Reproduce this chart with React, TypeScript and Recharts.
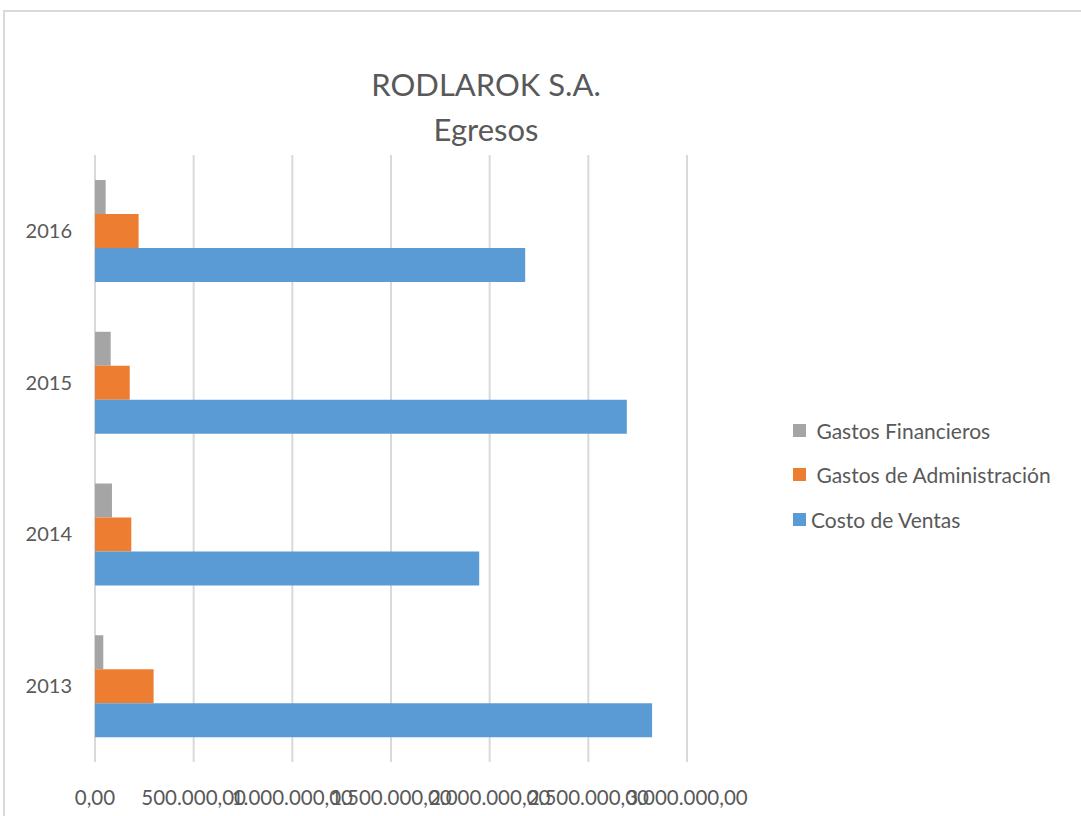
import React from 'react';
import { BarChart, Bar, XAxis, YAxis, CartesianGrid } from 'recharts';

const YEARS = ['2013', '2014', '2015', '2016'];
const COSTO_VENTAS = [2823000, 1947000, 2695000, 2180000];
const GASTOS_ADMIN = [297000, 184000, 176000, 221000];
const GASTOS_FIN = [42000, 86000, 79500, 54000];
const X_TICKS = [0, 500000, 1000000, 1500000, 2000000, 2500000, 3000000];

const SERIES = [
  { key: 'fin', name: ' Gastos Financieros', color: '#A5A5A5' },
  { key: 'admin', name: ' Gastos de Administración', color: '#ED7D31' },
  { key: 'ventas', name: 'Costo de Ventas', color: '#5B9BD5' },
];

const data = YEARS.map((year, i) => ({
  year,
  ventas: COSTO_VENTAS[i],
  admin: GASTOS_ADMIN[i],
  fin: GASTOS_FIN[i],
}));

const FONT = 'Lato, "Open Sans", sans-serif';
const TEXT = '#595959';

const formatNum = (v: number) =>
  Math.round(v).toString().replace(/\B(?=(\d{3})+(?!\d))/g, '.') + ',00';

const LegendBox = () => (
  <div style={{ position: 'absolute', left: 793, top: 408, fontFamily: FONT, fontSize: 21, color: TEXT }}>
    {SERIES.map(s => (
      <div key={s.key} style={{ display: 'flex', alignItems: 'center', height: 44.5 }}>
        <span style={{ width: 13, height: 13, background: s.color, display: 'inline-block', marginRight: 5 }} />
        <span style={{ whiteSpace: 'pre' }}>{s.name}</span>
      </div>
    ))}
  </div>
);

const App: React.FC = () => {
  return (
    <div style={{ position: 'absolute', left: 0, top: 0, width: 1081, height: 816, overflow: 'hidden', background: '#fff' }}>
      <div style={{ position: 'absolute', left: 3, top: 10, width: 1200, height: 900, border: '2px solid #d9d9d9' }} />
      <div
        style={{
          position: 'absolute', left: 286, width: 400, top: 62, textAlign: 'center',
          fontFamily: FONT, fontSize: 31, lineHeight: '45px', color: TEXT,
        }}
      >
        <div>RODLAROK S.A.</div>
        <div>Egresos</div>
      </div>
      <div style={{ position: 'absolute', left: 0, top: 0 }}>
        <BarChart
          width={1081}
          height={816}
          data={data}
          layout="vertical"
          margin={{ top: 155, right: 394, bottom: 0, left: 0 }}
          barCategoryGap={25}
          barGap={0}
        >
          <CartesianGrid horizontal={false} stroke="#d9d9d9" strokeWidth={2} />
          <XAxis
            type="number"
            domain={[0, 3000000]}
            ticks={X_TICKS}
            tickFormatter={formatNum}
            axisLine={false}
            tickLine={false}
            height={54}
            tickMargin={22}
            interval={0}
            tick={{ fill: TEXT, fontSize: 20.5, fontFamily: FONT }}
          />
          <YAxis
            type="category"
            dataKey="year"
            reversed
            width={95}
            axisLine={false}
            tickLine={false}
            tickMargin={17}
            tick={{ fill: TEXT, fontSize: 20, fontFamily: FONT }}
          />
          {SERIES.map(s => (
            <Bar key={s.key} dataKey={s.key} name={s.name} fill={s.color} isAnimationActive={false} />
          ))}
        </BarChart>
      </div>
      <LegendBox />
    </div>
  );
};

export default App;
